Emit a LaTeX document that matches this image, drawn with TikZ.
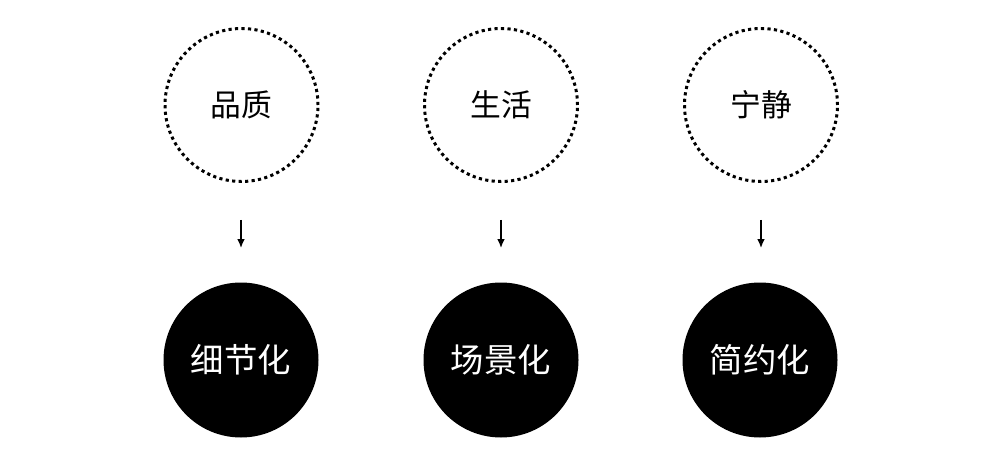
\documentclass[tikz,border=0pt]{standalone}
\usepackage{fontspec}
\usepackage{tikz}
\usetikzlibrary{arrows.meta}
\newfontfamily\cjk{Noto Sans CJK SC}
\tikzset{
  idea/.style={circle,draw=black,line width=1.7pt,dash pattern=on 1.8pt off 1.9pt,minimum size=3.06cm,inner sep=0pt,font=\cjk\fontsize{17.5pt}{17.5pt}\selectfont},
  result/.style={circle,fill=black,text=white,minimum size=3.1cm,inner sep=0pt,font=\cjk\fontsize{19pt}{19pt}\selectfont},
  leadsto/.style={line width=0.75pt,-{Latex[length=5pt,width=4.2pt]}}
}
\begin{document}
\begin{tikzpicture}
\useasboundingbox (0,0) rectangle (20,9);
\node[idea] (pinzhi) at (4.83,6.9) {品质};
\node[idea] (shenghuo) at (10.02,6.9) {生活};
\node[idea] (ningjing) at (15.22,6.9) {宁静};
\node[result] (xijie) at (4.82,1.8) {细节化};
\node[result] (changjing) at (10.02,1.8) {场景化};
\node[result] (jianyue) at (15.2,1.8) {简约化};
\coordinate (a1) at (4.82,4.6);
\coordinate (b1) at (4.82,4.04);
\coordinate (a2) at (10.02,4.6);
\coordinate (b2) at (10.02,4.04);
\coordinate (a3) at (15.22,4.6);
\coordinate (b3) at (15.22,4.04);
\draw[leadsto] (a1) -- (b1);
\draw[leadsto] (a2) -- (b2);
\draw[leadsto] (a3) -- (b3);
\end{tikzpicture}
\end{document}
